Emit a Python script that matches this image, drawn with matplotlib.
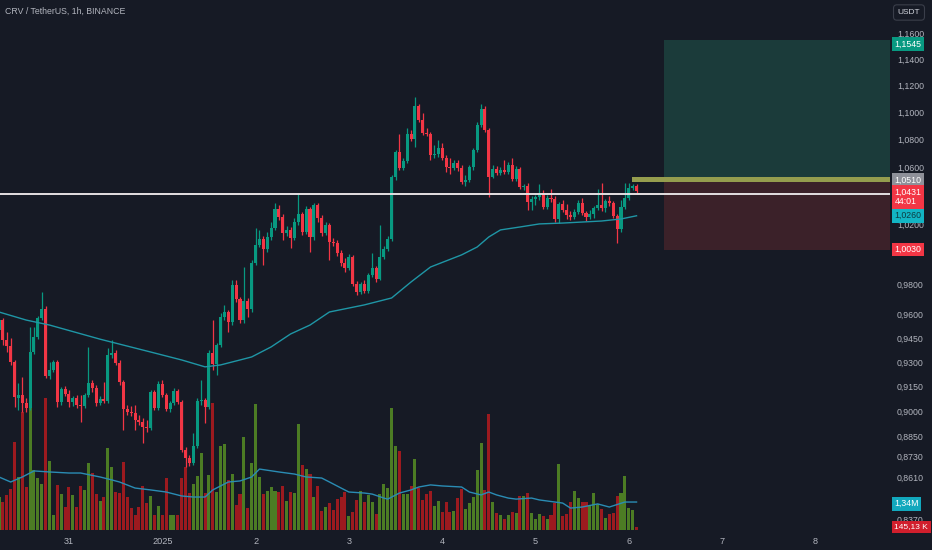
import numpy as np
import matplotlib
matplotlib.use('Agg')
import matplotlib.pyplot as plt
from matplotlib.transforms import blended_transform_factory
from matplotlib.ticker import NullLocator

plt.rcParams['font.family'] = ['Liberation Sans', 'DejaVu Sans']

title = 'CRV / TetherUS, 1h, BINANCE'

opens = [0.9502, 0.9566, 0.9439, 0.9401, 0.9301, 0.9078, 0.9097, 0.9048, 0.9017, 0.9363,
         0.9457, 0.9580, 0.9638, 0.9214, 0.9251, 0.9301, 0.9054, 0.9133, 0.9103, 0.9054,
         0.9078, 0.9036, 0.9029, 0.9097, 0.9170, 0.9139, 0.9048, 0.9072, 0.9060, 0.9345,
         0.9357, 0.9294, 0.9177, 0.9011, 0.8993, 0.8987, 0.8945, 0.8933, 0.8903, 0.8897,
         0.9115, 0.9017, 0.9164, 0.9097, 0.9011, 0.9048, 0.9121, 0.9054, 0.8767, 0.8720,
         0.8691, 0.8791, 0.9060, 0.9066, 0.9023, 0.9357, 0.9288, 0.9408, 0.9586, 0.9618,
         0.9553, 0.9794, 0.9703, 0.9566, 0.9690, 0.9638, 0.9940, 1.0061, 1.0102, 1.0034,
         1.0115, 1.0176, 1.0307, 1.0252, 1.0143, 1.0163, 1.0109, 1.0217, 1.0272, 1.0149,
         1.0307, 1.0115, 1.0335, 1.0245, 1.0143, 1.0197, 1.0081, 1.0075, 1.0007, 0.9940,
         0.9906, 0.9980, 0.9801, 0.9748, 0.9801, 0.9755, 0.9860, 0.9906, 0.9834, 0.9980,
         1.0034, 1.0102, 1.0530, 1.0709, 1.0595, 1.0645, 1.0839, 1.0802, 1.1045, 1.0942,
         1.0846, 1.0839, 1.0687, 1.0694, 1.0738, 1.0665, 1.0602, 1.0595, 1.0631, 1.0595,
         1.0496, 1.0510, 1.0602, 1.0723, 1.0906, 1.1023, 1.0868, 1.0530, 1.0588, 1.0559,
         1.0580, 1.0566, 1.0616, 1.0517, 1.0588, 1.0460, 1.0468, 1.0355, 1.0376, 1.0390,
         1.0411, 1.0321, 1.0383, 1.0376, 1.0238, 1.0341, 1.0300, 1.0266, 1.0252, 1.0286,
         1.0348, 1.0279, 1.0252, 1.0272, 1.0314, 1.0335, 1.0314, 1.0362, 1.0348, 1.0259,
         1.0169, 1.0321, 1.0383, 1.0453, 1.0468]

closes = [0.9566, 0.9439, 0.9401, 0.9301, 0.9084, 0.9097, 0.9048, 0.9017, 0.9363, 0.9457,
          0.9580, 0.9638, 0.9214, 0.9251, 0.9301, 0.9054, 0.9133, 0.9103, 0.9054, 0.9078,
          0.9036, 0.9029, 0.9097, 0.9170, 0.9139, 0.9048, 0.9072, 0.9060, 0.9345, 0.9357,
          0.9294, 0.9177, 0.9011, 0.8993, 0.8987, 0.8945, 0.8933, 0.8903, 0.8897, 0.9115,
          0.9017, 0.9164, 0.9097, 0.9011, 0.9048, 0.9121, 0.9054, 0.8767, 0.8720, 0.8691,
          0.8791, 0.9060, 0.9066, 0.9023, 0.9357, 0.9288, 0.9408, 0.9586, 0.9618, 0.9553,
          0.9794, 0.9703, 0.9566, 0.9690, 0.9638, 0.9940, 1.0061, 1.0102, 1.0034, 1.0115,
          1.0176, 1.0307, 1.0252, 1.0143, 1.0163, 1.0109, 1.0217, 1.0272, 1.0149, 1.0307,
          1.0115, 1.0335, 1.0245, 1.0143, 1.0197, 1.0081, 1.0075, 1.0007, 0.9940, 0.9906,
          0.9980, 0.9801, 0.9748, 0.9801, 0.9755, 0.9860, 0.9906, 0.9834, 0.9980, 1.0034,
          1.0102, 1.0530, 1.0709, 1.0595, 1.0645, 1.0839, 1.0802, 1.1045, 1.0942, 1.0846,
          1.0839, 1.0687, 1.0694, 1.0738, 1.0665, 1.0602, 1.0595, 1.0631, 1.0595, 1.0496,
          1.0510, 1.0602, 1.0723, 1.0906, 1.1023, 1.0868, 1.0530, 1.0588, 1.0559, 1.0580,
          1.0566, 1.0616, 1.0517, 1.0588, 1.0460, 1.0468, 1.0355, 1.0376, 1.0390, 1.0411,
          1.0321, 1.0383, 1.0376, 1.0238, 1.0341, 1.0300, 1.0266, 1.0252, 1.0286, 1.0348,
          1.0279, 1.0252, 1.0272, 1.0314, 1.0335, 1.0314, 1.0362, 1.0348, 1.0259, 1.0169,
          1.0321, 1.0383, 1.0453, 1.0468, 1.0431]

highs = [0.9618, 0.9580, 0.9489, 0.9451, 0.9313, 0.9170, 0.9208, 0.9078, 0.9521, 0.9521,
         0.9593, 0.9748, 0.9657, 0.9301, 0.9313, 0.9313, 0.9146, 0.9152, 0.9127, 0.9090,
         0.9097, 0.9097, 0.9109, 0.9395, 0.9189, 0.9158, 0.9090, 0.9177, 0.9389, 0.9439,
         0.9376, 0.9313, 0.9189, 0.9036, 0.9029, 0.9036, 0.8975, 0.8957, 0.8945, 0.9127,
         0.9127, 0.9183, 0.9189, 0.9109, 0.9060, 0.9139, 0.9133, 0.9066, 0.8785, 0.8738,
         0.8867, 0.9078, 0.9189, 0.9078, 0.9376, 0.9566, 0.9420, 0.9612, 0.9664, 0.9631,
         0.9827, 0.9827, 0.9716, 0.9913, 0.9709, 0.9960, 1.0176, 1.0163, 1.0122, 1.0149,
         1.0217, 1.0348, 1.0335, 1.0272, 1.0190, 1.0183, 1.0245, 1.0418, 1.0286, 1.0328,
         1.0321, 1.0348, 1.0348, 1.0266, 1.0217, 1.0210, 1.0109, 1.0095, 1.0027, 0.9973,
         1.0000, 0.9994, 0.9820, 0.9814, 0.9827, 0.9873, 1.0007, 0.9920, 1.0197, 1.0054,
         1.0122, 1.0545, 1.0723, 1.0839, 1.0665, 1.0884, 1.0868, 1.1112, 1.1060, 1.0993,
         1.0884, 1.0853, 1.0760, 1.0796, 1.0774, 1.0687, 1.0665, 1.0652, 1.0652, 1.0616,
         1.0545, 1.0616, 1.0738, 1.0927, 1.1060, 1.1045, 1.0884, 1.0616, 1.0609, 1.0602,
         1.0652, 1.0638, 1.0665, 1.0609, 1.0602, 1.0482, 1.0489, 1.0397, 1.0404, 1.0482,
         1.0439, 1.0404, 1.0446, 1.0397, 1.0355, 1.0369, 1.0341, 1.0293, 1.0307, 1.0369,
         1.0383, 1.0293, 1.0300, 1.0328, 1.0446, 1.0489, 1.0376, 1.0397, 1.0362, 1.0272,
         1.0369, 1.0489, 1.0489, 1.0482, 1.0482]

lows = [0.9483, 0.9408, 0.9363, 0.9282, 0.9023, 0.9005, 0.8993, 0.8993, 0.9005, 0.9351,
        0.9444, 0.9566, 0.9201, 0.9195, 0.9239, 0.9023, 0.9036, 0.9090, 0.9023, 0.9029,
        0.9017, 0.8933, 0.9017, 0.9084, 0.9115, 0.9029, 0.9036, 0.9048, 0.9048, 0.9326,
        0.9282, 0.9158, 0.8885, 0.8975, 0.8969, 0.8885, 0.8915, 0.8808, 0.8873, 0.8885,
        0.9005, 0.9005, 0.9084, 0.8999, 0.8993, 0.9036, 0.9042, 0.8755, 0.8667, 0.8673,
        0.8679, 0.8779, 0.9036, 0.8927, 0.9011, 0.9251, 0.9220, 0.9395, 0.9566, 0.9489,
        0.9534, 0.9683, 0.9547, 0.9547, 0.9586, 0.9618, 0.9927, 1.0047, 0.9927, 1.0014,
        1.0095, 1.0163, 1.0231, 1.0095, 1.0122, 1.0041, 1.0095, 1.0197, 1.0129, 1.0136,
        1.0014, 1.0095, 1.0217, 1.0122, 1.0129, 0.9960, 1.0054, 0.9987, 0.9920, 0.9880,
        0.9893, 0.9787, 0.9729, 0.9735, 0.9742, 0.9742, 0.9847, 0.9814, 0.9827, 0.9967,
        1.0020, 1.0088, 1.0510, 1.0580, 1.0580, 1.0631, 1.0789, 1.0746, 1.0927, 1.0832,
        1.0824, 1.0652, 1.0665, 1.0673, 1.0652, 1.0566, 1.0552, 1.0580, 1.0573, 1.0482,
        1.0468, 1.0496, 1.0580, 1.0709, 1.0891, 1.0853, 1.0390, 1.0524, 1.0545, 1.0545,
        1.0552, 1.0552, 1.0503, 1.0503, 1.0446, 1.0439, 1.0300, 1.0300, 1.0335, 1.0369,
        1.0307, 1.0307, 1.0355, 1.0217, 1.0210, 1.0286, 1.0238, 1.0231, 1.0238, 1.0272,
        1.0266, 1.0224, 1.0238, 1.0245, 1.0300, 1.0293, 1.0286, 1.0328, 1.0245, 1.0075,
        1.0149, 1.0307, 1.0369, 1.0439, 1.0418]

# volume in millions
volumes = [1.58, 1.34, 1.68, 1.96, 4.22, 2.54, 5.65, 2.06, 5.84, 2.87,
           2.49, 2.20, 6.32, 3.31, 0.72, 2.16, 1.72, 1.10, 2.06, 1.68,
           1.10, 2.11, 1.92, 3.21, 2.73, 1.72, 1.39, 1.58, 3.93, 3.02,
           1.82, 1.77, 3.26, 1.58, 1.05, 0.72, 1.10, 2.11, 1.29, 1.63,
           0.72, 1.15, 0.72, 2.49, 0.72, 0.72, 0.72, 2.49, 3.02, 1.77,
           2.20, 2.59, 3.69, 1.77, 2.63, 6.08, 1.82, 4.02, 4.12, 2.40,
           2.68, 1.20, 1.72, 4.45, 1.05, 3.21, 6.04, 2.54, 1.72, 1.87,
           2.06, 1.87, 1.82, 2.11, 1.39, 1.82, 1.77, 5.08, 3.11, 2.92,
           2.68, 1.58, 2.11, 0.91, 1.10, 1.29, 0.96, 1.48, 1.58, 1.82,
           0.67, 0.86, 1.44, 1.87, 1.34, 1.68, 1.34, 0.77, 1.72, 2.20,
           2.01, 5.84, 4.02, 3.78, 1.72, 1.72, 2.11, 3.40, 2.01, 1.44,
           1.72, 1.87, 1.15, 1.39, 0.86, 1.34, 0.86, 0.91, 1.53, 1.96,
           1.01, 1.29, 1.58, 2.87, 4.17, 1.92, 5.56, 1.34, 0.81, 0.72,
           0.53, 0.72, 0.86, 0.81, 1.63, 1.63, 1.77, 0.81, 0.53, 0.77,
           0.67, 0.53, 0.72, 1.29, 3.16, 0.67, 0.77, 1.34, 1.87, 1.53,
           1.34, 1.34, 1.15, 1.77, 1.25, 1.01, 0.57, 0.77, 0.81, 1.63,
           1.77, 2.59, 1.05, 0.96, 0.14513]

# moving average on price (read at sample bars)
ma_bar = [0, 7, 13, 26, 39, 47, 53, 57, 62, 65, 70, 75, 80, 85, 94, 101, 106, 111,
          119, 123, 126, 129, 134, 139, 145, 155, 160, 164]
ma_val = [0.9618, 0.9566, 0.9534, 0.9444, 0.9363, 0.9313, 0.9270, 0.9282, 0.9313, 0.9332,
          0.9395, 0.9477, 0.9534, 0.9618, 0.9664, 0.9709, 0.9814, 0.9913, 0.9994, 1.0047,
          1.0115, 1.0163, 1.0183, 1.0204, 1.0210, 1.0224, 1.0238, 1.0260]

# moving average on volume (millions)
vma_bar = [0, 3, 6, 9, 13, 18, 21, 26, 29, 31, 35, 39, 43, 47, 50, 53, 55, 59, 62, 65,
           67, 72, 76, 79, 83, 85, 88, 90, 94, 96, 99, 100, 103, 106, 108, 111, 114, 119, 121, 124,
           126, 128, 131, 133, 137, 139, 143, 145, 147, 150, 154, 157, 161, 164]
vma_val = [2.54, 2.30, 2.54, 2.83, 2.78, 2.73, 2.73, 2.54, 2.40, 2.30, 2.01, 1.92, 1.82, 1.63, 1.58, 1.58, 1.92, 2.30, 2.35, 2.54,
           2.92, 2.78, 2.68, 2.54, 2.49, 2.30, 2.01, 1.82, 1.77, 1.72, 1.53, 1.48, 1.77, 1.92, 2.06, 2.16, 2.11, 2.06, 1.82, 1.68,
           1.82, 1.68, 1.53, 1.48, 1.53, 1.44, 1.34, 1.29, 1.05, 1.10, 1.25, 1.10, 1.34, 1.34]

day_bars = [18, 42, 66, 90, 114, 138, 162, 186, 210]
day_labels = ['31', '2025', '2', '3', '4', '5', '6', '7', '8']

# visible price-scale labels (others are covered by value tags)
price_ticks = [0.837, 0.861, 0.873, 0.885, 0.900, 0.915, 0.930, 0.945, 0.960,
               0.980, 1.020, 1.060, 1.080, 1.100, 1.120, 1.140, 1.160]
price_tick_labels = ['0,8370', '0,8610', '0,8730', '0,8850', '0,9000', '0,9150',
                     '0,9300', '0,9450', '0,9600', '0,9800', '1,0200',
                     '1,0600', '1,0800', '1,1000', '1,1200', '1,1400', '1,1600']

# position tool
target_price = 1.1545
entry_price = 1.0510
stop_price = 1.0030
entry_band = (1.0496, 1.0530)
pos_start_bar = 171.0
band_start_bar = 162.9
hline_price = 1.0414
last_price = 1.0431
last_vol = 0.14513
vol_ma_last = 1.34
ma_last = 1.0260

BG = '#161a25'
UP = '#089981'
DN = '#f23645'
VUP = '#4c7c24'
VDN = '#9c1a1f'
TXT = '#b2b5be'

W, H = 932, 550
fig = plt.figure(figsize=(W / 100, H / 100), dpi=100, facecolor=BG)
rect = [0, 20 / H, 890 / W, 530 / H]
ax_v = fig.add_axes(rect, zorder=0)
ax = fig.add_axes(rect, zorder=1)
for a in (ax, ax_v):
    a.patch.set_visible(False)
    for s in a.spines.values():
        s.set_visible(False)

idx = np.arange(len(closes))
o = np.array(opens)
c = np.array(closes)
hi = np.array(highs)
lo = np.array(lows)
up = c >= o
col = np.where(up, UP, DN)
vcol = np.where(up, VUP, VDN)

xmin, xmax = 0.26, 229.2

# volume panel
ax_v.bar(idx, volumes, width=0.78, color=vcol, linewidth=0)
ax_v.plot(vma_bar, vma_val, color='#2a8cb4', lw=1.0)
ax_v.set_ylim(0, 25.39)
ax_v.set_xlim(xmin, xmax)
ax_v.set_xticks([])
ax_v.set_yticks([])

# price panel
ax.set_yscale('log')
ax.set_xlim(xmin, xmax)
ax.set_ylim(0.8308, 1.1860)

# position tool areas
ax.fill_between([pos_start_bar, xmax], entry_band[1], target_price, color='#1b3b3a', lw=0, zorder=1)
ax.fill_between([pos_start_bar, xmax], stop_price, entry_band[0], color='#3b2129', lw=0, zorder=1)
ax.fill_between([band_start_bar, xmax], entry_band[0], entry_band[1], color='#959d4e', lw=0, zorder=1.2)

ax.vlines(idx, lo, hi, colors=col, lw=0.9, zorder=3)
body_lo = np.minimum(o, c)
body_h = np.maximum(np.abs(c - o), 0.0004)
ax.bar(idx, body_h, bottom=body_lo, width=0.78, color=col, linewidth=0, zorder=4)

ax.plot(ma_bar, ma_val, color='#1f96a6', lw=1.0, zorder=5)
ax.axhline(hline_price, color='#e4dfe2', lw=1.4, zorder=6)

ax.yaxis.tick_right()
ax.yaxis.set_minor_locator(NullLocator())
ax.set_yticks(price_ticks)
ax.set_yticklabels(price_tick_labels)
ax.set_xticks(day_bars)
ax.set_xticklabels(day_labels)
ax.tick_params(axis='y', length=0, pad=5, labelsize=6.3, labelcolor=TXT)
ax.tick_params(axis='x', length=0, pad=5, labelsize=6.6, labelcolor=TXT)

# right-axis value labels
tp = blended_transform_factory(ax.transAxes, ax.transData)
tv = blended_transform_factory(ax.transAxes, ax_v.transData)
lx = 894.5 / 890


def tag(y, s, bg, fg='white', tr=tp, fs=6.3):
    ax.text(lx, y, s, transform=tr, ha='left', va='center', fontsize=fs, color=fg,
            clip_on=False, zorder=20, linespacing=1.1,
            bbox=dict(boxstyle='square,pad=0.28', fc=bg, ec='none'))


tag(1.1514, '1,1545', '#089981')
tag(entry_price, '1,0510', '#8e9099')
tag(1.0390, '1,0431\n44:01', '#f23645')
tag(ma_last, '1,0260', '#12b5c4', fg='#0d3b40')
tag(stop_price, '1,0030', '#f23645')
tag(1.26, '1,34M', '#12a8bd', tr=tv)
tag(last_vol, '145,13 K', '#d11f2d', tr=tv, fs=6.0)

fig.text(5 / W, 1 - 11 / H, title, color=TXT, fontsize=6.3, va='center', ha='left')
fig.text(909 / W, 1 - 12.5 / H, 'USDT', color='#d1d4dc', fontsize=6, va='center', ha='center',
         bbox=dict(boxstyle='round,pad=0.5,rounding_size=0.4', fc=BG, ec='#3a3e4a', lw=0.8))

fig.savefig('out.png', dpi=100, facecolor=BG)
